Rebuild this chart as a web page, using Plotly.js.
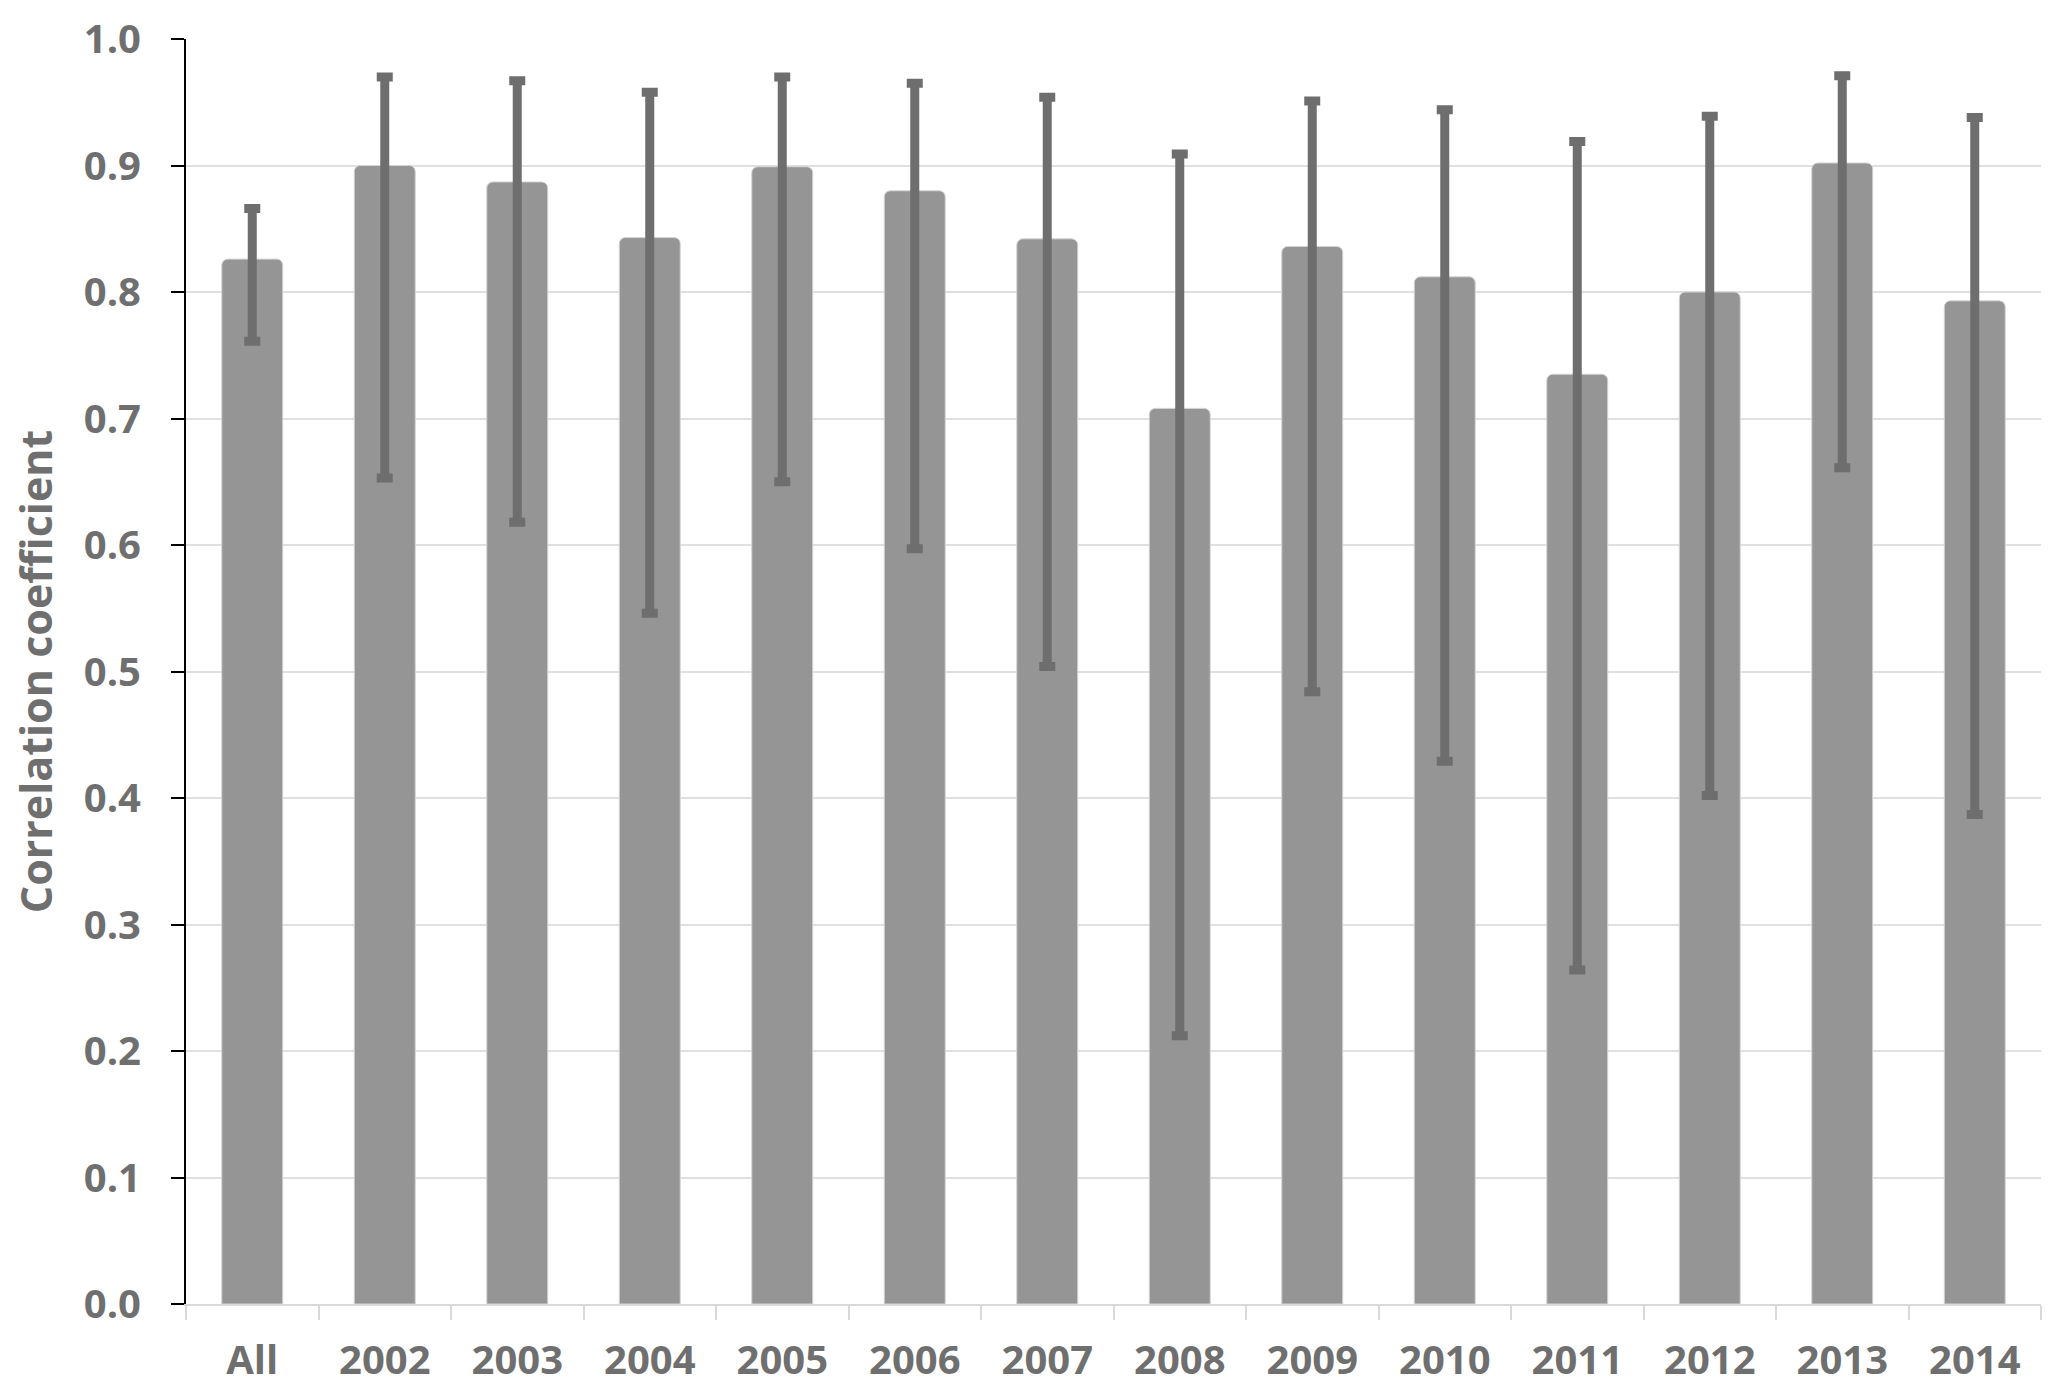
<!DOCTYPE html>
<html>
<head>
<meta charset="utf-8">
<script src="https://cdn.plot.ly/plotly-3.0.1.min.js"></script>
<style>
  html, body { margin: 0; padding: 0; background: #ffffff; }
  #chart { width: 2067px; height: 1400px; }
</style>
</head>
<body>
<div id="chart"></div>
<script>
var categories = ['All', '2002', '2003', '2004', '2005', '2006', '2007', '2008', '2009', '2010', '2011', '2012', '2013', '2014'];
var coefficient = [0.826, 0.900, 0.887, 0.843, 0.899, 0.880, 0.842, 0.708, 0.836, 0.812, 0.735, 0.800, 0.902, 0.793];
var upper = [0.866, 0.970, 0.967, 0.958, 0.970, 0.965, 0.954, 0.909, 0.951, 0.944, 0.919, 0.939, 0.971, 0.938];
var lower = [0.761, 0.653, 0.618, 0.546, 0.650, 0.597, 0.504, 0.212, 0.484, 0.429, 0.264, 0.402, 0.661, 0.387];

var textGrey = '#6f6f6f';

var trace1 = {
    x: categories,
    y: coefficient,
    type: 'bar',
    marker: {
        color: '#959595',
        cornerradius: 6,
        line: { color: '#d4d4d4', width: 1 }
    },
    error_y: {
        type: 'data',
        symmetric: false,
        array: upper.map(function (u, i) { return u - coefficient[i]; }),
        arrayminus: lower.map(function (l, i) { return coefficient[i] - l; }),
        color: '#6e6e6e',
        thickness: 9,
        width: 8
    },
    hoverinfo: 'x+y'
};

var data = [trace1];

var layout = {
    width: 2067,
    height: 1400,
    margin: { l: 186, r: 26, t: 39, b: 96 },
    paper_bgcolor: '#ffffff',
    plot_bgcolor: '#ffffff',
    showlegend: false,
    bargap: 0.54,
    font: { family: 'Open Sans, sans-serif', color: textGrey, size: 40, weight: 'bold' },
    xaxis: {
        type: 'category',
        showgrid: false,
        showline: true,
        linecolor: '#d9d9d9',
        linewidth: 2,
        ticks: 'outside',
        tickson: 'boundaries',
        ticklen: 14,
        tickwidth: 2,
        tickcolor: '#d9d9d9',
        ticklabelstandoff: 20,
        tickfont: { family: 'Open Sans, sans-serif', size: 40, color: textGrey, weight: 'bold' },
        zeroline: false
    },
    yaxis: {
        range: [0, 1.0],
        dtick: 0.1,
        tickformat: '.1f',
        showgrid: true,
        gridcolor: '#e0e0e0',
        gridwidth: 2,
        showline: true,
        linecolor: '#000000',
        linewidth: 2,
        ticks: 'outside',
        ticklen: 13,
        tickwidth: 2,
        tickcolor: '#000000',
        ticklabelstandoff: 22,
        zeroline: false,
        tickfont: { family: 'Open Sans, sans-serif', size: 40, color: textGrey, weight: 'bold' },
        title: {
            text: 'Correlation coefficient',
            standoff: 18,
            font: { family: 'Open Sans, sans-serif', size: 43, color: textGrey, weight: 'bold' }
        }
    }
};

Plotly.newPlot('chart', data, layout, { displayModeBar: false, staticPlot: true });
</script>
</body>
</html>
